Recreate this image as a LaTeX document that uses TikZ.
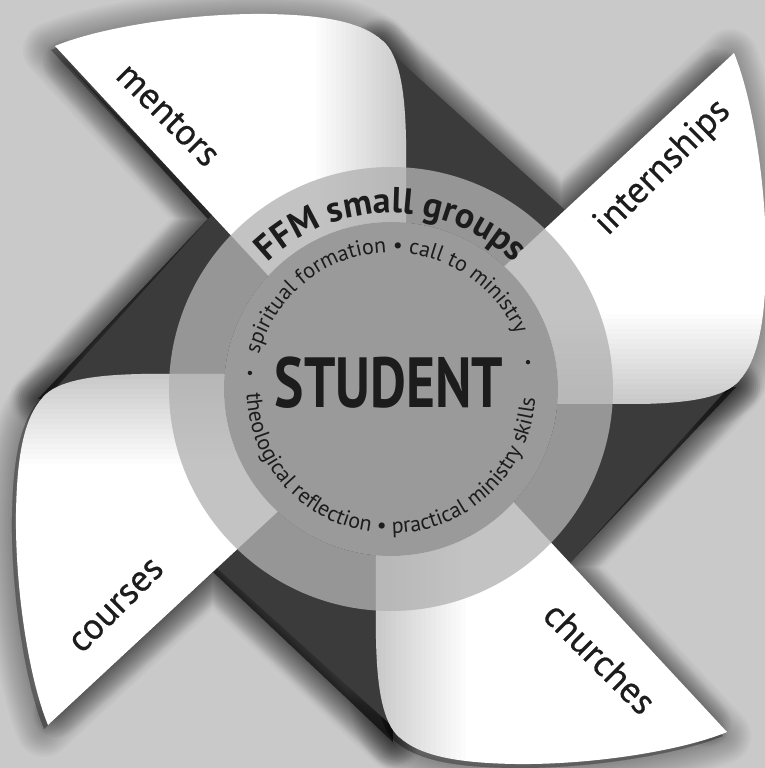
\documentclass[tikz,border=0pt]{standalone}
\usepackage{fontspec}
\setmainfont{PT Sans}
\newfontfamily\vanefont{PT Sans}[FakeBold=0.5]
\usetikzlibrary{decorations.text}

\definecolor{bggray}{HTML}{C9C9C9}
\definecolor{darkwing}{HTML}{3B3B3B}
\definecolor{ringgray}{HTML}{B2B2B2}
\definecolor{hubgray}{HTML}{9A9A9A}
\definecolor{ink}{HTML}{1C1C1C}

% one pinwheel vane, drawn for the upper-left position (centre of the wheel at the origin)
\newcommand\flapoutline[1]{\path[#1] (-336,343) -- (-179,174) -- (15,-35) -- (15,250)
  .. controls (14,300) and (8,334) .. (-8,348)
  .. controls (-30,368) and (-70,374) .. (-124,375)
  .. controls (-200,376) and (-290,362) .. (-336,343) -- cycle;}
% the dark backing triangle lying clockwise of the vane
\newcommand\wingdark[1]{\path[#1] (-10,345) -- (174,179) -- (-35,-15) -- cycle;}
% vane plus the backing triangle beside it, used for the soft shadow
\newcommand\wingshadow[1]{\path[#1] (-349,-6) -- (-179,174) -- (-336,343)
  .. controls (-290,362) and (-200,376) .. (-124,375)
  .. controls (-70,374) and (-30,368) .. (-8,348)
  .. controls (8,334) and (14,300) .. (15,250) -- (15,-35) -- (0,0) -- cycle;}
% the straight edge side alone, which throws the deeper shadow
\newcommand\edgeshadow[1]{\path[#1] (-349,-6) -- (-179,174) -- (-320,330) -- (0,0) -- cycle;}

\tikzset{
  wordlabel/.style={font=\vanefont\fontsize{37}{37}\selectfont, text=ink, inner sep=0pt},
  softshade/.style={fill=black, draw=black, line join=round, opacity=0.022},
  deepshade/.style={fill=black, draw=black, line join=round, opacity=0.03}
}

\begin{document}
\begin{tikzpicture}[x=1pt,y=1pt]
\useasboundingbox (-391,389) rectangle (374,-379);
\clip (-391,389) rectangle (374,-379);
\fill[bggray] (-391,389) rectangle (374,-379);

% soft shadows, thrown slightly down and to the left
\begin{scope}[shift={(-4,-4)}]
\foreach \k in {0,1,2,3}{
  \begin{scope}[rotate=-90*\k]
    \foreach \w in {4,8,...,56}{\wingshadow{softshade, line width=\w pt}}
    \foreach \w in {4,8,...,48}{\edgeshadow{deepshade, line width=\w pt}}
  \end{scope}}
\end{scope}

% dark backing triangles
\foreach \k in {0,1,2,3}{
  \begin{scope}[rotate=-90*\k]
    \wingdark{fill=darkwing}
  \end{scope}}

% white vanes, greyed towards their curled edge
\foreach \k in {0,1,2,3}{
  \begin{scope}[rotate=-90*\k]
    \flapoutline{fill=white}
    \begin{scope}
      \flapoutline{clip}
      \foreach \s in {1,...,18}{\fill[black, opacity=0.011] ({15-5*\s},-60) rectangle (20,400);}
    \end{scope}
  \end{scope}}

% translucent ring and solid hub
\fill[ringgray, opacity=0.77, even odd rule] (0,0) circle[radius=222] (0,0) circle[radius=167];
\fill[hubgray] (0,0) circle[radius=167];

% texts on the ring and hub
\path[decorate, decoration={text along path, text align=center,
  text={|\bfseries\fontsize{36}{36}\selectfont\color{ink}|FFM small groups}}]
  (180:176) arc[start angle=180, end angle=0, radius=176];
\path[decorate, decoration={text along path, text align=center,
  text={|\fontsize{22}{22}\selectfont\color{ink}|spiritual formation • call to ministry}}]
  (184.5:136.5) arc[start angle=184.5, end angle=4.5, radius=136.5];
\path[decorate, decoration={text along path, text align=center,
  text={|\fontsize{22}{22}\selectfont\color{ink}|theological reflection • practical ministry skills}}]
  (179:144.5) arc[start angle=179, end angle=359, radius=144.5];
\fill[ink] (173.5:142) circle[radius=2.2];
\fill[ink] (11.1:139.6) circle[radius=2.2];

\node[font=\bfseries\fontsize{71}{71}\selectfont, text=ink, inner sep=0pt] (hub) at (-2,6)
  {\scalebox{0.78}[1]{STUDENT}};

% vane labels
\node[wordlabel, rotate=-45] (mentors) at (-223,274) {mentors};
\node[wordlabel, rotate=45] (internships) at (272,221) {internships};
\node[wordlabel, rotate=-45] (churches) at (209,-269) {churches};
\node[wordlabel, rotate=45] (courses) at (-274,-217) {courses};
\end{tikzpicture}
\end{document}
